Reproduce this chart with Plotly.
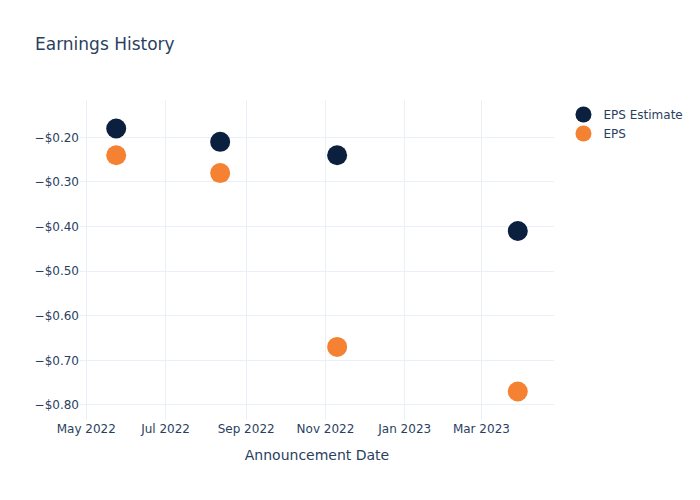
import plotly.graph_objects as go

dates = ["2022-05-24", "2022-08-12", "2022-11-10", "2023-03-29"]
eps_estimate = [-0.18, -0.21, -0.24, -0.41]
eps_actual = [-0.24, -0.28, -0.67, -0.77]

fig = go.Figure()
fig.add_trace(go.Scatter(x=dates, y=eps_estimate, mode="markers", name="EPS Estimate",
                         marker=dict(size=20, color="#0b1f3f")))
fig.add_trace(go.Scatter(x=dates, y=eps_actual, mode="markers", name="EPS",
                         marker=dict(size=20, color="#f58233")))
fig.update_layout(
    template="plotly_white",
    width=700, height=500,
    font=dict(family="DejaVu Sans"),
    title="Earnings History",
    xaxis=dict(title="Announcement Date", tickformat="%b %Y", dtick="M2"),
    yaxis=dict(tickformat="$.2f"),
)
fig.write_html("out.html")
